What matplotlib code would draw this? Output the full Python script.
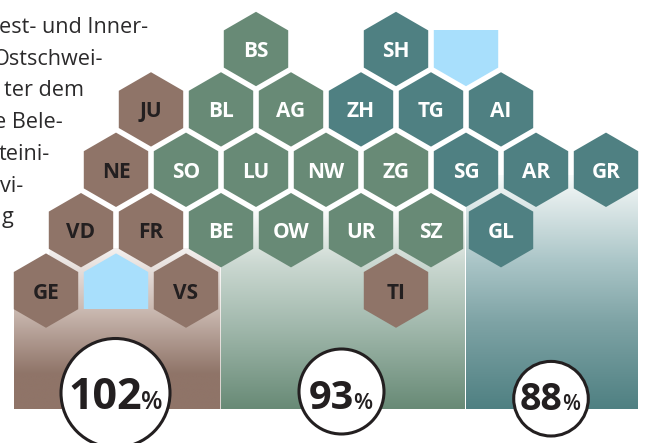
import numpy as np
import matplotlib
matplotlib.use("Agg")
import matplotlib.pyplot as plt
from matplotlib.colors import LinearSegmentedColormap
from matplotlib.patches import Polygon, Circle

# Cantons of each language region, with hexagon grid columns and rows
west_names = ["JU", "NE", "VD", "FR", "GE", "VS", "TI"]
west_cols = [3, 2, 1, 3, 0, 4, 10]
west_rows = [1, 2, 3, 3, 4, 4, 4]

central_names = ["BS", "BL", "AG", "SO", "LU", "NW", "ZG", "BE", "OW", "UR", "SZ"]
central_cols = [6, 5, 7, 4, 6, 8, 10, 5, 7, 9, 11]
central_rows = [0, 1, 1, 2, 2, 2, 2, 3, 3, 3, 3]

east_names = ["SH", "ZH", "TG", "AI", "SG", "AR", "GR", "GL"]
east_cols = [10, 9, 11, 13, 12, 14, 16, 13]
east_rows = [0, 1, 1, 1, 2, 2, 2, 3]

# Lakes (light-blue cells)
lake_cols = [12, 2]
lake_rows = [0, 4]

# Regional percentages
region_values = [102, 93, 88]

body_text = ["est- und Inner-", "Ostschwei-", "ter dem", "e Bele-", "teini-", "vi-", "g"]

BROWN, GREEN, TEAL, BLUE = "#8f7468", "#688a76", "#4f8082", "#a8dffc"
DARK = "#231f20"
FONT = "Open Sans"
W, H = 646, 443

fig = plt.figure(figsize=(W / 100, H / 100), dpi=100, facecolor="white")
ax = fig.add_axes([0, 0, 1, 1])
ax.set_xlim(0, W)
ax.set_ylim(H, 0)
ax.axis("off")

X0, DX, Y0, DY, R = 46.0, 35.0, 49.0, 60.4, 37.2
HW = R * np.sqrt(3) / 2


def cx(c):
    return X0 + DX * c


def cy(r):
    return Y0 + DY * r


def gradient(x0, x1, y0, y1, stops, clip=None):
    cmap = LinearSegmentedColormap.from_list("g", stops)
    im = ax.imshow(np.linspace(0, 1, 256)[:, None], extent=(x0, x1, y1, y0), cmap=cmap,
                   aspect="auto", zorder=1, interpolation="bilinear")
    if clip is not None:
        patch = Polygon(clip, closed=True, transform=ax.transData, fc="none", ec="none")
        ax.add_patch(patch)
        im.set_clip_path(patch)


gradient(13.5, 220.3, 248, 409,
         [(0, "#f4f1f0"), (0.38, "#cbbab2"), (0.78, BROWN), (1, BROWN)],
         clip=[(13.5, 409), (13.5, 300), (46, 280), (50, 248), (220.3, 248), (220.3, 409)])
gradient(221.3, 465, 210, 409,
         [(0, "#fbfcfb"), (0.27, "#cbd8d1"), (0.58, "#a2b9ad"), (1, GREEN)])
gradient(466, 638, 175, 409,
         [(0, "#f8fbfb"), (0.08, "#e6eeee"), (0.37, "#aac5c7"), (0.63, "#7ea3a5"), (1, TEAL)])
ax.set_xlim(0, W)
ax.set_ylim(H, 0)


def hexagon(c, r, color):
    x, y = cx(c), cy(r)
    pts = [(x, y - R), (x + HW, y - R / 2), (x + HW, y + R / 2),
           (x, y + R), (x - HW, y + R / 2), (x - HW, y - R / 2)]
    ax.add_patch(Polygon(pts, closed=True, fc=color, ec="none", zorder=3))


for names, cols, rows, color, tc in [
    (west_names, west_cols, west_rows, BROWN, DARK),
    (central_names, central_cols, central_rows, GREEN, "white"),
    (east_names, east_cols, east_rows, TEAL, "white"),
]:
    for n, c, r in zip(names, cols, rows):
        hexagon(c, r, color)
        ax.text(cx(c), cy(r) + 8, n, ha="center", va="baseline", color=tc,
                fontsize=15, fontweight="bold", family=FONT, zorder=4)

# Lakes: top cell has a flat top, lower cell has a flat bottom
x, y = cx(lake_cols[0]), cy(lake_rows[0])
ax.add_patch(Polygon([(x - HW, 30), (x + HW, 30), (x + HW, y + R / 2), (x, y + R), (x - HW, y + R / 2)],
                     fc=BLUE, ec="none", zorder=3))
x, y = cx(lake_cols[1]), cy(lake_rows[1])
ax.add_patch(Polygon([(x, y - R), (x + HW, y - R / 2), (x + HW, 309), (x - HW, 309), (x - HW, y - R / 2)],
                     fc=BLUE, ec="none", zorder=3))

# Circles with their percentages
circle_x = [115.5, 341.5, 551]
circle_y = [393, 391.5, 398.7]
circle_r = [54.5, 42.5, 37.3]
num_left = [68, 308.5, 520]
num_base = [409, 409, 409.5]
num_size = [31, 28.5, 27]
pct_size = [18, 16, 15]
renderer = fig.canvas.get_renderer()
for v, xc, yc, rc, xl, yb, ns, ps in zip(region_values, circle_x, circle_y, circle_r,
                                         num_left, num_base, num_size, pct_size):
    ax.add_patch(Circle((xc, yc), rc, fc="white", ec=DARK, lw=2.2, zorder=5))
    t = ax.text(xl, yb, str(v), ha="left", va="baseline", fontsize=ns,
                fontweight="bold", family=FONT, color=DARK, zorder=6)
    x1 = t.get_window_extent(renderer).x1
    ax.text(x1 - 1, yb, "%", ha="left", va="baseline", fontsize=ps,
            fontweight="semibold", family=FONT, color=DARK, zorder=6)

# Body text, cropped by the figure's left edge
line_right = [148, 103, 84, 63, 50, 23, 13]
line_base = [32.5, 64.5, 96, 128, 160, 191.5, 223]
for s, xt, yt in zip(body_text, line_right, line_base):
    ax.text(xt, yt, s, ha="right", va="baseline", fontsize=15.6,
            family=FONT, color="#2b2a2b", zorder=2, clip_on=False)

fig.savefig("out.png", dpi=100)
